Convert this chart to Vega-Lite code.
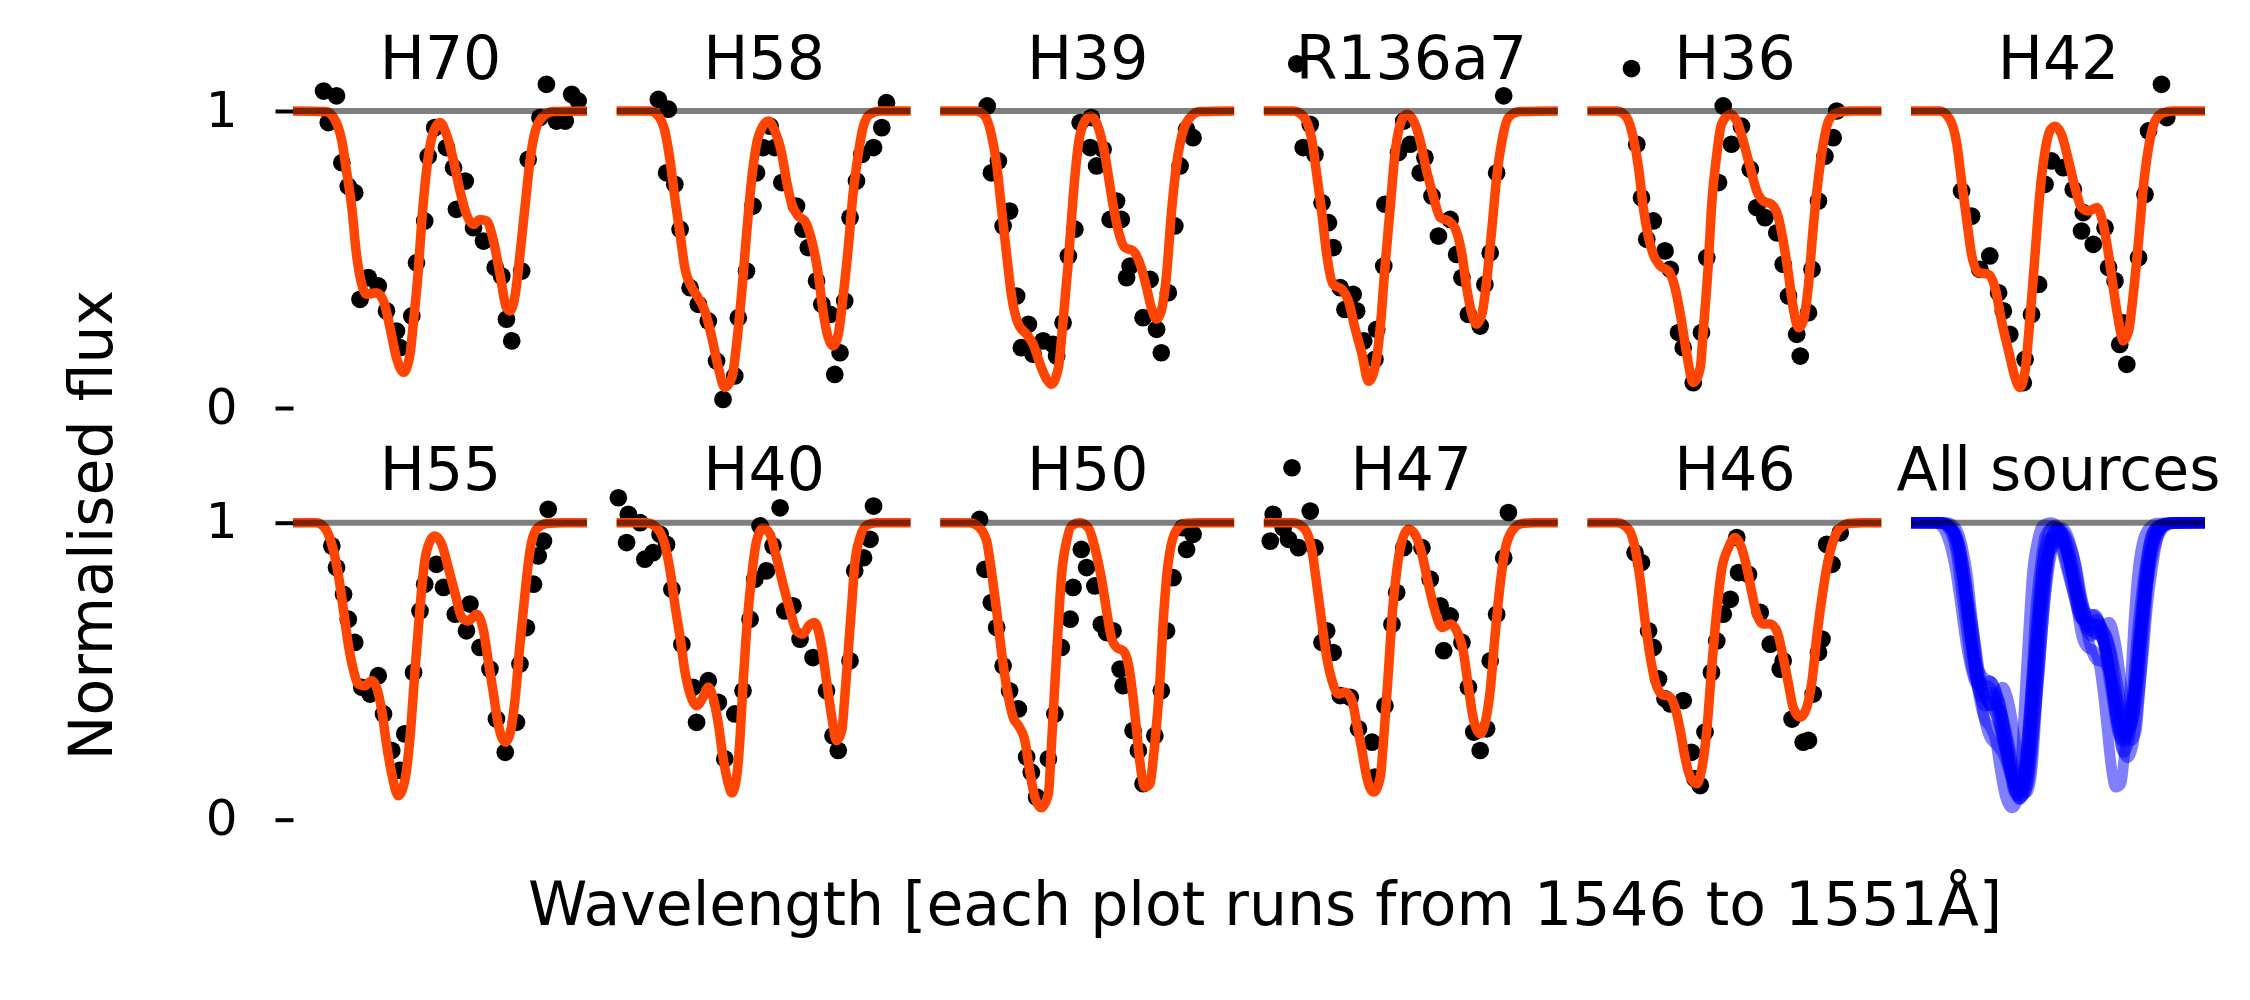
{
"$schema": "https://vega.github.io/schema/vega-lite/v6.json",
"background": "white",
"padding": {"left": 62, "top": 30, "right": 5, "bottom": 5},
"title": {"text": "Wavelength [each plot runs from 1546 to 1551Å]", "orient": "bottom", "anchor": "start", "frame": "group", "dx": 235, "fontSize": 60, "fontWeight": "normal", "color": "black", "font": "DejaVu Sans", "offset": 33},
"config": {
  "view": {"stroke": null},
  "font": "DejaVu Sans",
  "axis": {"domain": false, "grid": false, "ticks": true, "tickColor": "black", "tickSize": 18, "tickWidth": 4, "labelFontSize": 50, "labelColor": "black", "labelFont": "DejaVu Sans", "labelPadding": 38, "titleColor": "black", "titleFont": "DejaVu Sans", "titleFontWeight": "normal"},
  "axisTop": {"ticks": false, "labels": false, "domain": false, "titleBaseline": "alphabetic", "titleFontSize": 60},
  "line": {"color": "#ff4500", "strokeWidth": 9.5, "interpolate": "monotone"},
  "circle": {"color": "black", "size": 314, "opacity": 1},
  "rule": {"color": "black", "opacity": 0.5, "strokeWidth": 6}
},
"datasets": {
"continuum": [{"lo": 1546, "hi": 1551, "level": 1}],
"dots": [
{"src":"H70","wl":1546.52,"flux":1.067},{"src":"H70","wl":1546.74,"flux":1.051},{"src":"H70","wl":1546.6,"flux":0.961},{"src":"H70","wl":1546.83,"flux":0.826},{"src":"H70","wl":1546.94,"flux":0.747},{"src":"H70","wl":1547.05,"flux":0.725},{"src":"H70","wl":1547.28,"flux":0.439},{"src":"H70","wl":1547.14,"flux":0.366},{"src":"H70","wl":1547.45,"flux":0.411},{"src":"H70","wl":1547.59,"flux":0.327},{"src":"H70","wl":1547.76,"flux":0.259},{"src":"H70","wl":1547.82,"flux":0.203},{"src":"H70","wl":1548.02,"flux":0.31},{"src":"H70","wl":1548.1,"flux":0.489},{"src":"H70","wl":1548.24,"flux":0.63},{"src":"H70","wl":1548.3,"flux":0.848},{"src":"H70","wl":1548.41,"flux":0.944},{"src":"H70","wl":1548.61,"flux":0.877},{"src":"H70","wl":1548.73,"flux":0.809},{"src":"H70","wl":1548.93,"flux":0.764},{"src":"H70","wl":1548.78,"flux":0.669},{"src":"H70","wl":1549.07,"flux":0.607},{"src":"H70","wl":1549.24,"flux":0.562},{"src":"H70","wl":1549.44,"flux":0.473},{"src":"H70","wl":1549.55,"flux":0.444},{"src":"H70","wl":1549.63,"flux":0.299},{"src":"H70","wl":1549.72,"flux":0.226},{"src":"H70","wl":1549.89,"flux":0.461},{"src":"H70","wl":1550.0,"flux":0.837},{"src":"H70","wl":1550.2,"flux":0.978},{"src":"H70","wl":1550.31,"flux":1.09},{"src":"H70","wl":1550.48,"flux":0.966},{"src":"H70","wl":1550.63,"flux":0.966},{"src":"H70","wl":1550.74,"flux":1.056},{"src":"H70","wl":1550.85,"flux":1.034},
{"src":"H58","wl":1546.71,"flux":1.039},{"src":"H58","wl":1546.88,"flux":1.006},{"src":"H58","wl":1546.85,"flux":0.792},{"src":"H58","wl":1546.99,"flux":0.753},{"src":"H58","wl":1547.08,"flux":0.602},{"src":"H58","wl":1547.25,"flux":0.405},{"src":"H58","wl":1547.39,"flux":0.349},{"src":"H58","wl":1547.56,"flux":0.293},{"src":"H58","wl":1547.7,"flux":0.158},{"src":"H58","wl":1547.81,"flux":0.029},{"src":"H58","wl":1548.01,"flux":0.108},{"src":"H58","wl":1548.07,"flux":0.304},{"src":"H58","wl":1548.21,"flux":0.461},{"src":"H58","wl":1548.32,"flux":0.68},{"src":"H58","wl":1548.38,"flux":0.792},{"src":"H58","wl":1548.49,"flux":0.877},{"src":"H58","wl":1548.61,"flux":0.949},{"src":"H58","wl":1548.69,"flux":0.877},{"src":"H58","wl":1548.81,"flux":0.759},{"src":"H58","wl":1549.06,"flux":0.68},{"src":"H58","wl":1549.17,"flux":0.602},{"src":"H58","wl":1549.26,"flux":0.54},{"src":"H58","wl":1549.4,"flux":0.428},{"src":"H58","wl":1549.49,"flux":0.349},{"src":"H58","wl":1549.63,"flux":0.315},{"src":"H58","wl":1549.71,"flux":0.113},{"src":"H58","wl":1549.8,"flux":0.186},{"src":"H58","wl":1549.88,"flux":0.36},{"src":"H58","wl":1549.97,"flux":0.641},{"src":"H58","wl":1550.08,"flux":0.764},{"src":"H58","wl":1550.17,"flux":0.854},{"src":"H58","wl":1550.37,"flux":0.877},{"src":"H58","wl":1550.51,"flux":0.944},{"src":"H58","wl":1550.59,"flux":1.028},
{"src":"H39","wl":1546.8,"flux":1.017},{"src":"H39","wl":1546.99,"flux":0.832},{"src":"H39","wl":1546.87,"flux":0.792},{"src":"H39","wl":1547.18,"flux":0.663},{"src":"H39","wl":1547.07,"flux":0.613},{"src":"H39","wl":1547.3,"flux":0.377},{"src":"H39","wl":1547.5,"flux":0.282},{"src":"H39","wl":1547.38,"flux":0.203},{"src":"H39","wl":1547.58,"flux":0.181},{"src":"H39","wl":1547.75,"flux":0.226},{"src":"H39","wl":1547.92,"flux":0.214},{"src":"H39","wl":1547.98,"flux":0.175},{"src":"H39","wl":1548.09,"flux":0.287},{"src":"H39","wl":1548.18,"flux":0.512},{"src":"H39","wl":1548.29,"flux":0.602},{"src":"H39","wl":1548.38,"flux":0.961},{"src":"H39","wl":1548.57,"flux":0.978},{"src":"H39","wl":1548.55,"flux":0.877},{"src":"H39","wl":1548.77,"flux":0.871},{"src":"H39","wl":1548.66,"flux":0.815},{"src":"H39","wl":1549.0,"flux":0.697},{"src":"H39","wl":1548.89,"flux":0.635},{"src":"H39","wl":1549.08,"flux":0.635},{"src":"H39","wl":1549.23,"flux":0.478},{"src":"H39","wl":1549.17,"flux":0.439},{"src":"H39","wl":1549.57,"flux":0.433},{"src":"H39","wl":1549.45,"flux":0.304},{"src":"H39","wl":1549.68,"flux":0.265},{"src":"H39","wl":1549.76,"flux":0.186},{"src":"H39","wl":1549.88,"flux":0.388},{"src":"H39","wl":1549.99,"flux":0.613},{"src":"H39","wl":1550.08,"flux":0.815},{"src":"H39","wl":1550.19,"flux":0.938},{"src":"H39","wl":1550.3,"flux":0.91},
{"src":"R136a7","wl":1546.56,"flux":1.159},{"src":"R136a7","wl":1546.79,"flux":0.955},{"src":"R136a7","wl":1546.67,"flux":0.877},{"src":"R136a7","wl":1546.87,"flux":0.854},{"src":"R136a7","wl":1546.99,"flux":0.691},{"src":"R136a7","wl":1547.1,"flux":0.624},{"src":"R136a7","wl":1547.18,"flux":0.54},{"src":"R136a7","wl":1547.3,"flux":0.405},{"src":"R136a7","wl":1547.52,"flux":0.383},{"src":"R136a7","wl":1547.38,"flux":0.332},{"src":"R136a7","wl":1547.58,"flux":0.327},{"src":"R136a7","wl":1547.7,"flux":0.226},{"src":"R136a7","wl":1547.92,"flux":0.265},{"src":"R136a7","wl":1547.89,"flux":0.164},{"src":"R136a7","wl":1548.06,"flux":0.686},{"src":"R136a7","wl":1548.04,"flux":0.478},{"src":"R136a7","wl":1548.29,"flux":0.86},{"src":"R136a7","wl":1548.38,"flux":0.966},{"src":"R136a7","wl":1548.49,"flux":0.888},{"src":"R136a7","wl":1548.74,"flux":0.843},{"src":"R136a7","wl":1548.66,"flux":0.792},{"src":"R136a7","wl":1548.86,"flux":0.714},{"src":"R136a7","wl":1549.17,"flux":0.635},{"src":"R136a7","wl":1548.97,"flux":0.579},{"src":"R136a7","wl":1549.28,"flux":0.517},{"src":"R136a7","wl":1549.37,"flux":0.439},{"src":"R136a7","wl":1549.48,"flux":0.315},{"src":"R136a7","wl":1549.68,"flux":0.276},{"src":"R136a7","wl":1549.76,"flux":0.416},{"src":"R136a7","wl":1549.85,"flux":0.523},{"src":"R136a7","wl":1549.96,"flux":0.792},{"src":"R136a7","wl":1550.08,"flux":1.051},
{"src":"H36","wl":1546.75,"flux":1.143},{"src":"H36","wl":1546.84,"flux":0.888},{"src":"H36","wl":1546.92,"flux":0.708},{"src":"H36","wl":1547.12,"flux":0.63},{"src":"H36","wl":1547.01,"flux":0.568},{"src":"H36","wl":1547.32,"flux":0.529},{"src":"H36","wl":1547.41,"flux":0.467},{"src":"H36","wl":1547.55,"flux":0.254},{"src":"H36","wl":1547.63,"flux":0.203},{"src":"H36","wl":1547.8,"flux":0.085},{"src":"H36","wl":1547.94,"flux":0.254},{"src":"H36","wl":1548.03,"flux":0.506},{"src":"H36","wl":1548.23,"flux":0.759},{"src":"H36","wl":1548.31,"flux":1.017},{"src":"H36","wl":1548.62,"flux":0.949},{"src":"H36","wl":1548.45,"flux":0.888},{"src":"H36","wl":1548.77,"flux":0.804},{"src":"H36","wl":1548.88,"flux":0.675},{"src":"H36","wl":1549.02,"flux":0.641},{"src":"H36","wl":1549.22,"flux":0.59},{"src":"H36","wl":1549.33,"flux":0.484},{"src":"H36","wl":1549.42,"flux":0.377},{"src":"H36","wl":1549.56,"flux":0.248},{"src":"H36","wl":1549.62,"flux":0.175},{"src":"H36","wl":1549.76,"flux":0.321},{"src":"H36","wl":1549.82,"flux":0.467},{"src":"H36","wl":1549.93,"flux":0.697},{"src":"H36","wl":1550.04,"flux":0.848},{"src":"H36","wl":1550.18,"flux":0.91},{"src":"H36","wl":1550.24,"flux":1.0},
{"src":"H42","wl":1546.86,"flux":0.731},{"src":"H42","wl":1547.03,"flux":0.646},{"src":"H42","wl":1547.34,"flux":0.512},{"src":"H42","wl":1547.17,"flux":0.467},{"src":"H42","wl":1547.49,"flux":0.388},{"src":"H42","wl":1547.57,"flux":0.327},{"src":"H42","wl":1547.68,"flux":0.248},{"src":"H42","wl":1547.94,"flux":0.164},{"src":"H42","wl":1547.91,"flux":0.085},{"src":"H42","wl":1548.05,"flux":0.315},{"src":"H42","wl":1548.17,"flux":0.416},{"src":"H42","wl":1548.28,"flux":0.753},{"src":"H42","wl":1548.39,"flux":0.832},{"src":"H42","wl":1548.59,"flux":0.809},{"src":"H42","wl":1548.76,"flux":0.736},{"src":"H42","wl":1548.93,"flux":0.658},{"src":"H42","wl":1548.9,"flux":0.596},{"src":"H42","wl":1549.1,"flux":0.551},{"src":"H42","wl":1549.3,"flux":0.607},{"src":"H42","wl":1549.36,"flux":0.473},{"src":"H42","wl":1549.47,"flux":0.428},{"src":"H42","wl":1549.61,"flux":0.287},{"src":"H42","wl":1549.55,"flux":0.214},{"src":"H42","wl":1549.67,"flux":0.147},{"src":"H42","wl":1549.87,"flux":0.506},{"src":"H42","wl":1549.98,"flux":0.719},{"src":"H42","wl":1550.04,"flux":0.933},{"src":"H42","wl":1550.35,"flux":0.978},{"src":"H42","wl":1550.26,"flux":1.09},
{"src":"H55","wl":1546.66,"flux":0.922},{"src":"H55","wl":1546.74,"flux":0.849},{"src":"H55","wl":1546.86,"flux":0.759},{"src":"H55","wl":1546.94,"flux":0.675},{"src":"H55","wl":1547.05,"flux":0.597},{"src":"H55","wl":1547.17,"flux":0.446},{"src":"H55","wl":1547.31,"flux":0.423},{"src":"H55","wl":1547.45,"flux":0.485},{"src":"H55","wl":1547.54,"flux":0.356},{"src":"H55","wl":1547.68,"flux":0.233},{"src":"H55","wl":1547.82,"flux":0.166},{"src":"H55","wl":1547.9,"flux":0.289},{"src":"H55","wl":1548.05,"flux":0.496},{"src":"H55","wl":1548.16,"flux":0.703},{"src":"H55","wl":1548.24,"flux":0.793},{"src":"H55","wl":1548.44,"flux":0.86},{"src":"H55","wl":1548.56,"flux":0.782},{"src":"H55","wl":1548.76,"flux":0.692},{"src":"H55","wl":1549.01,"flux":0.726},{"src":"H55","wl":1548.95,"flux":0.636},{"src":"H55","wl":1549.18,"flux":0.58},{"src":"H55","wl":1549.35,"flux":0.507},{"src":"H55","wl":1549.46,"flux":0.339},{"src":"H55","wl":1549.61,"flux":0.227},{"src":"H55","wl":1549.8,"flux":0.328},{"src":"H55","wl":1549.86,"flux":0.524},{"src":"H55","wl":1549.97,"flux":0.647},{"src":"H55","wl":1550.09,"flux":0.793},{"src":"H55","wl":1550.17,"flux":0.888},{"src":"H55","wl":1550.26,"flux":0.938},{"src":"H55","wl":1550.34,"flux":1.045},
{"src":"H40","wl":1546.03,"flux":1.084},{"src":"H40","wl":1546.2,"flux":1.028},{"src":"H40","wl":1546.4,"flux":1.0},{"src":"H40","wl":1546.17,"flux":0.933},{"src":"H40","wl":1546.48,"flux":0.877},{"src":"H40","wl":1546.62,"flux":0.899},{"src":"H40","wl":1546.74,"flux":0.961},{"src":"H40","wl":1546.85,"flux":0.927},{"src":"H40","wl":1546.94,"flux":0.776},{"src":"H40","wl":1547.11,"flux":0.591},{"src":"H40","wl":1547.3,"flux":0.446},{"src":"H40","wl":1547.56,"flux":0.468},{"src":"H40","wl":1547.36,"flux":0.328},{"src":"H40","wl":1547.73,"flux":0.395},{"src":"H40","wl":1547.84,"flux":0.205},{"src":"H40","wl":1548.01,"flux":0.356},{"src":"H40","wl":1548.15,"flux":0.434},{"src":"H40","wl":1548.27,"flux":0.675},{"src":"H40","wl":1548.35,"flux":0.81},{"src":"H40","wl":1548.55,"flux":0.838},{"src":"H40","wl":1548.44,"flux":0.989},{"src":"H40","wl":1548.66,"flux":0.922},{"src":"H40","wl":1548.78,"flux":1.05},{"src":"H40","wl":1548.86,"flux":0.703},{"src":"H40","wl":1549.0,"flux":0.72},{"src":"H40","wl":1549.12,"flux":0.608},{"src":"H40","wl":1549.34,"flux":0.546},{"src":"H40","wl":1549.57,"flux":0.434},{"src":"H40","wl":1549.68,"flux":0.283},{"src":"H40","wl":1549.77,"flux":0.233},{"src":"H40","wl":1549.97,"flux":0.535},{"src":"H40","wl":1550.05,"flux":0.838},{"src":"H40","wl":1550.2,"flux":0.882},{"src":"H40","wl":1550.31,"flux":0.944},{"src":"H40","wl":1550.37,"flux":1.056},
{"src":"H50","wl":1546.67,"flux":1.011},{"src":"H50","wl":1546.76,"flux":0.843},{"src":"H50","wl":1546.87,"flux":0.731},{"src":"H50","wl":1546.96,"flux":0.647},{"src":"H50","wl":1547.07,"flux":0.518},{"src":"H50","wl":1547.18,"flux":0.434},{"src":"H50","wl":1547.33,"flux":0.373},{"src":"H50","wl":1547.47,"flux":0.211},{"src":"H50","wl":1547.55,"flux":0.16},{"src":"H50","wl":1547.64,"flux":0.076},{"src":"H50","wl":1547.84,"flux":0.205},{"src":"H50","wl":1547.95,"flux":0.356},{"src":"H50","wl":1548.06,"flux":0.58},{"src":"H50","wl":1548.21,"flux":0.675},{"src":"H50","wl":1548.26,"flux":0.782},{"src":"H50","wl":1548.4,"flux":0.91},{"src":"H50","wl":1548.49,"flux":0.849},{"src":"H50","wl":1548.63,"flux":0.787},{"src":"H50","wl":1548.74,"flux":0.658},{"src":"H50","wl":1548.94,"flux":0.636},{"src":"H50","wl":1548.83,"flux":0.63},{"src":"H50","wl":1549.06,"flux":0.507},{"src":"H50","wl":1549.11,"flux":0.451},{"src":"H50","wl":1549.28,"flux":0.3},{"src":"H50","wl":1549.37,"flux":0.233},{"src":"H50","wl":1549.45,"flux":0.121},{"src":"H50","wl":1549.65,"flux":0.283},{"src":"H50","wl":1549.76,"flux":0.434},{"src":"H50","wl":1549.85,"flux":0.636},{"src":"H50","wl":1549.96,"flux":0.815},{"src":"H50","wl":1550.13,"flux":0.983},{"src":"H50","wl":1550.3,"flux":0.961},{"src":"H50","wl":1550.19,"flux":0.91},
{"src":"H47","wl":1546.48,"flux":1.185},{"src":"H47","wl":1546.16,"flux":1.028},{"src":"H47","wl":1546.11,"flux":0.938},{"src":"H47","wl":1546.33,"flux":0.983},{"src":"H47","wl":1546.42,"flux":0.944},{"src":"H47","wl":1546.59,"flux":0.916},{"src":"H47","wl":1546.79,"flux":1.039},{"src":"H47","wl":1546.87,"flux":0.916},{"src":"H47","wl":1547.07,"flux":0.636},{"src":"H47","wl":1546.99,"flux":0.597},{"src":"H47","wl":1547.18,"flux":0.563},{"src":"H47","wl":1547.3,"flux":0.418},{"src":"H47","wl":1547.47,"flux":0.412},{"src":"H47","wl":1547.61,"flux":0.306},{"src":"H47","wl":1547.84,"flux":0.261},{"src":"H47","wl":1547.89,"flux":0.143},{"src":"H47","wl":1548.06,"flux":0.384},{"src":"H47","wl":1548.18,"flux":0.658},{"src":"H47","wl":1548.26,"flux":0.765},{"src":"H47","wl":1548.38,"flux":0.916},{"src":"H47","wl":1548.69,"flux":0.916},{"src":"H47","wl":1548.83,"flux":0.81},{"src":"H47","wl":1549.0,"flux":0.72},{"src":"H47","wl":1549.17,"flux":0.686},{"src":"H47","wl":1549.06,"flux":0.569},{"src":"H47","wl":1549.37,"flux":0.597},{"src":"H47","wl":1549.48,"flux":0.446},{"src":"H47","wl":1549.57,"flux":0.295},{"src":"H47","wl":1549.68,"flux":0.233},{"src":"H47","wl":1549.79,"flux":0.306},{"src":"H47","wl":1549.85,"flux":0.535},{"src":"H47","wl":1549.96,"flux":0.692},{"src":"H47","wl":1550.08,"flux":0.882},{"src":"H47","wl":1550.16,"flux":1.034},
{"src":"H46","wl":1546.81,"flux":0.899},{"src":"H46","wl":1546.92,"flux":0.866},{"src":"H46","wl":1547.04,"flux":0.636},{"src":"H46","wl":1547.12,"flux":0.58},{"src":"H46","wl":1547.21,"flux":0.474},{"src":"H46","wl":1547.32,"flux":0.407},{"src":"H46","wl":1547.63,"flux":0.401},{"src":"H46","wl":1547.41,"flux":0.39},{"src":"H46","wl":1547.77,"flux":0.227},{"src":"H46","wl":1547.83,"flux":0.138},{"src":"H46","wl":1547.92,"flux":0.115},{"src":"H46","wl":1548.0,"flux":0.295},{"src":"H46","wl":1548.11,"flux":0.496},{"src":"H46","wl":1548.2,"flux":0.602},{"src":"H46","wl":1548.31,"flux":0.692},{"src":"H46","wl":1548.43,"flux":0.742},{"src":"H46","wl":1548.57,"flux":0.832},{"src":"H46","wl":1548.54,"flux":0.95},{"src":"H46","wl":1548.74,"flux":0.826},{"src":"H46","wl":1548.94,"flux":0.698},{"src":"H46","wl":1549.11,"flux":0.591},{"src":"H46","wl":1549.33,"flux":0.535},{"src":"H46","wl":1549.28,"flux":0.507},{"src":"H46","wl":1549.48,"flux":0.339},{"src":"H46","wl":1549.67,"flux":0.261},{"src":"H46","wl":1549.76,"flux":0.267},{"src":"H46","wl":1549.84,"flux":0.423},{"src":"H46","wl":1549.93,"flux":0.563},{"src":"H46","wl":1549.99,"flux":0.608},{"src":"H46","wl":1550.16,"flux":0.86},{"src":"H46","wl":1550.07,"flux":0.927},{"src":"H46","wl":1550.3,"flux":0.966}
],
"models": [
{"src":"H70","wl":1546,"flux":1},{"src":"H70","wl":1546.55,"flux":0.998},{"src":"H70","wl":1546.69,"flux":0.978},{"src":"H70","wl":1546.83,"flux":0.899},{"src":"H70","wl":1546.91,"flux":0.798},{"src":"H70","wl":1547.0,"flux":0.675},{"src":"H70","wl":1547.08,"flux":0.517},{"src":"H70","wl":1547.17,"flux":0.416},{"src":"H70","wl":1547.25,"flux":0.383},{"src":"H70","wl":1547.42,"flux":0.388},{"src":"H70","wl":1547.54,"flux":0.36},{"src":"H70","wl":1547.65,"flux":0.27},{"src":"H70","wl":1547.76,"flux":0.169},{"src":"H70","wl":1547.88,"flux":0.12},{"src":"H70","wl":1547.99,"flux":0.181},{"src":"H70","wl":1548.05,"flux":0.293},{"src":"H70","wl":1548.13,"flux":0.461},{"src":"H70","wl":1548.19,"flux":0.63},{"src":"H70","wl":1548.27,"flux":0.798},{"src":"H70","wl":1548.36,"flux":0.91},{"src":"H70","wl":1548.5,"flux":0.961},{"src":"H70","wl":1548.61,"flux":0.921},{"src":"H70","wl":1548.73,"flux":0.832},{"src":"H70","wl":1548.84,"flux":0.731},{"src":"H70","wl":1548.95,"flux":0.652},{"src":"H70","wl":1549.07,"flux":0.618},{"src":"H70","wl":1549.18,"flux":0.635},{"src":"H70","wl":1549.29,"flux":0.63},{"src":"H70","wl":1549.41,"flux":0.562},{"src":"H70","wl":1549.52,"flux":0.45},{"src":"H70","wl":1549.63,"flux":0.338},{"src":"H70","wl":1549.69,"flux":0.327},{"src":"H70","wl":1549.78,"flux":0.383},{"src":"H70","wl":1549.86,"flux":0.517},{"src":"H70","wl":1549.95,"flux":0.686},{"src":"H70","wl":1550.03,"flux":0.832},{"src":"H70","wl":1550.12,"flux":0.933},{"src":"H70","wl":1550.26,"flux":0.983},{"src":"H70","wl":1550.43,"flux":0.998},{"src":"H70","wl":1551,"flux":1},
{"src":"H58","wl":1546,"flux":1},{"src":"H58","wl":1546.57,"flux":1},{"src":"H58","wl":1546.71,"flux":0.983},{"src":"H58","wl":1546.82,"flux":0.933},{"src":"H58","wl":1546.91,"flux":0.832},{"src":"H58","wl":1546.99,"flux":0.708},{"src":"H58","wl":1547.08,"flux":0.585},{"src":"H58","wl":1547.16,"flux":0.473},{"src":"H58","wl":1547.28,"flux":0.405},{"src":"H58","wl":1547.39,"flux":0.371},{"src":"H58","wl":1547.5,"flux":0.327},{"src":"H58","wl":1547.62,"flux":0.237},{"src":"H58","wl":1547.73,"flux":0.136},{"src":"H58","wl":1547.84,"flux":0.069},{"src":"H58","wl":1547.96,"flux":0.102},{"src":"H58","wl":1548.04,"flux":0.214},{"src":"H58","wl":1548.13,"flux":0.394},{"src":"H58","wl":1548.21,"flux":0.585},{"src":"H58","wl":1548.3,"flux":0.776},{"src":"H58","wl":1548.38,"flux":0.888},{"src":"H58","wl":1548.49,"flux":0.95},{"src":"H58","wl":1548.58,"flux":0.966},{"src":"H58","wl":1548.69,"flux":0.933},{"src":"H58","wl":1548.81,"flux":0.854},{"src":"H58","wl":1548.89,"flux":0.764},{"src":"H58","wl":1548.98,"flux":0.686},{"src":"H58","wl":1549.09,"flux":0.646},{"src":"H58","wl":1549.2,"flux":0.63},{"src":"H58","wl":1549.32,"flux":0.562},{"src":"H58","wl":1549.43,"flux":0.45},{"src":"H58","wl":1549.51,"flux":0.327},{"src":"H58","wl":1549.6,"flux":0.237},{"src":"H58","wl":1549.68,"flux":0.209},{"src":"H58","wl":1549.77,"flux":0.248},{"src":"H58","wl":1549.85,"flux":0.371},{"src":"H58","wl":1549.94,"flux":0.54},{"src":"H58","wl":1550.02,"flux":0.719},{"src":"H58","wl":1550.11,"flux":0.854},{"src":"H58","wl":1550.19,"flux":0.944},{"src":"H58","wl":1550.31,"flux":0.989},{"src":"H58","wl":1550.48,"flux":1},{"src":"H58","wl":1551,"flux":1},
{"src":"H39","wl":1546,"flux":1},{"src":"H39","wl":1546.62,"flux":1},{"src":"H39","wl":1546.76,"flux":0.983},{"src":"H39","wl":1546.87,"flux":0.921},{"src":"H39","wl":1546.96,"flux":0.82},{"src":"H39","wl":1547.04,"flux":0.675},{"src":"H39","wl":1547.13,"flux":0.517},{"src":"H39","wl":1547.21,"flux":0.383},{"src":"H39","wl":1547.33,"flux":0.282},{"src":"H39","wl":1547.47,"flux":0.248},{"src":"H39","wl":1547.58,"flux":0.215},{"src":"H39","wl":1547.7,"flux":0.147},{"src":"H39","wl":1547.81,"flux":0.097},{"src":"H39","wl":1547.89,"flux":0.08},{"src":"H39","wl":1548.01,"flux":0.136},{"src":"H39","wl":1548.09,"flux":0.293},{"src":"H39","wl":1548.18,"flux":0.495},{"src":"H39","wl":1548.26,"flux":0.708},{"src":"H39","wl":1548.35,"flux":0.888},{"src":"H39","wl":1548.46,"flux":0.966},{"src":"H39","wl":1548.57,"flux":0.983},{"src":"H39","wl":1548.69,"flux":0.944},{"src":"H39","wl":1548.8,"flux":0.854},{"src":"H39","wl":1548.91,"flux":0.719},{"src":"H39","wl":1549.03,"flux":0.596},{"src":"H39","wl":1549.14,"flux":0.54},{"src":"H39","wl":1549.28,"flux":0.529},{"src":"H39","wl":1549.4,"flux":0.484},{"src":"H39","wl":1549.51,"flux":0.405},{"src":"H39","wl":1549.59,"flux":0.338},{"src":"H39","wl":1549.68,"flux":0.299},{"src":"H39","wl":1549.76,"flux":0.327},{"src":"H39","wl":1549.85,"flux":0.45},{"src":"H39","wl":1549.93,"flux":0.652},{"src":"H39","wl":1550.02,"flux":0.82},{"src":"H39","wl":1550.13,"flux":0.933},{"src":"H39","wl":1550.25,"flux":0.978},{"src":"H39","wl":1550.42,"flux":0.998},{"src":"H39","wl":1551,"flux":1},
{"src":"R136a7","wl":1546,"flux":1},{"src":"R136a7","wl":1546.5,"flux":1},{"src":"R136a7","wl":1546.67,"flux":0.983},{"src":"R136a7","wl":1546.82,"flux":0.899},{"src":"R136a7","wl":1546.9,"flux":0.787},{"src":"R136a7","wl":1546.99,"flux":0.652},{"src":"R136a7","wl":1547.07,"flux":0.517},{"src":"R136a7","wl":1547.18,"flux":0.416},{"src":"R136a7","wl":1547.33,"flux":0.399},{"src":"R136a7","wl":1547.44,"flux":0.36},{"src":"R136a7","wl":1547.55,"flux":0.27},{"src":"R136a7","wl":1547.67,"flux":0.181},{"src":"R136a7","wl":1547.78,"flux":0.09},{"src":"R136a7","wl":1547.89,"flux":0.136},{"src":"R136a7","wl":1547.98,"flux":0.27},{"src":"R136a7","wl":1548.06,"flux":0.473},{"src":"R136a7","wl":1548.15,"flux":0.675},{"src":"R136a7","wl":1548.23,"flux":0.854},{"src":"R136a7","wl":1548.32,"flux":0.955},{"src":"R136a7","wl":1548.43,"flux":0.989},{"src":"R136a7","wl":1548.55,"flux":0.966},{"src":"R136a7","wl":1548.66,"flux":0.899},{"src":"R136a7","wl":1548.77,"flux":0.798},{"src":"R136a7","wl":1548.89,"flux":0.708},{"src":"R136a7","wl":1549.0,"flux":0.641},{"src":"R136a7","wl":1549.14,"flux":0.63},{"src":"R136a7","wl":1549.25,"flux":0.607},{"src":"R136a7","wl":1549.37,"flux":0.517},{"src":"R136a7","wl":1549.45,"flux":0.405},{"src":"R136a7","wl":1549.54,"flux":0.316},{"src":"R136a7","wl":1549.62,"flux":0.282},{"src":"R136a7","wl":1549.71,"flux":0.316},{"src":"R136a7","wl":1549.79,"flux":0.428},{"src":"R136a7","wl":1549.88,"flux":0.607},{"src":"R136a7","wl":1549.96,"flux":0.776},{"src":"R136a7","wl":1550.05,"flux":0.899},{"src":"R136a7","wl":1550.16,"flux":0.978},{"src":"R136a7","wl":1550.36,"flux":0.998},{"src":"R136a7","wl":1551,"flux":1},
{"src":"H36","wl":1546,"flux":1},{"src":"H36","wl":1546.5,"flux":1},{"src":"H36","wl":1546.67,"flux":0.978},{"src":"H36","wl":1546.78,"flux":0.91},{"src":"H36","wl":1546.87,"flux":0.809},{"src":"H36","wl":1546.95,"flux":0.675},{"src":"H36","wl":1547.04,"flux":0.574},{"src":"H36","wl":1547.12,"flux":0.517},{"src":"H36","wl":1547.24,"flux":0.478},{"src":"H36","wl":1547.38,"flux":0.461},{"src":"H36","wl":1547.49,"flux":0.405},{"src":"H36","wl":1547.6,"flux":0.293},{"src":"H36","wl":1547.69,"flux":0.181},{"src":"H36","wl":1547.8,"flux":0.086},{"src":"H36","wl":1547.92,"flux":0.136},{"src":"H36","wl":1547.97,"flux":0.259},{"src":"H36","wl":1548.06,"flux":0.495},{"src":"H36","wl":1548.11,"flux":0.675},{"src":"H36","wl":1548.2,"flux":0.854},{"src":"H36","wl":1548.28,"flux":0.955},{"src":"H36","wl":1548.43,"flux":0.989},{"src":"H36","wl":1548.54,"flux":0.966},{"src":"H36","wl":1548.65,"flux":0.899},{"src":"H36","wl":1548.77,"flux":0.809},{"src":"H36","wl":1548.88,"flux":0.731},{"src":"H36","wl":1548.99,"flux":0.697},{"src":"H36","wl":1549.13,"flux":0.686},{"src":"H36","wl":1549.25,"flux":0.641},{"src":"H36","wl":1549.33,"flux":0.562},{"src":"H36","wl":1549.42,"flux":0.45},{"src":"H36","wl":1549.5,"flux":0.338},{"src":"H36","wl":1549.59,"flux":0.27},{"src":"H36","wl":1549.67,"flux":0.293},{"src":"H36","wl":1549.76,"flux":0.416},{"src":"H36","wl":1549.84,"flux":0.607},{"src":"H36","wl":1549.93,"flux":0.776},{"src":"H36","wl":1550.01,"flux":0.888},{"src":"H36","wl":1550.1,"flux":0.966},{"src":"H36","wl":1550.24,"flux":0.994},{"src":"H36","wl":1550.47,"flux":1},{"src":"H36","wl":1551,"flux":1},
{"src":"H42","wl":1546,"flux":1},{"src":"H42","wl":1546.49,"flux":1},{"src":"H42","wl":1546.66,"flux":0.972},{"src":"H42","wl":1546.78,"flux":0.888},{"src":"H42","wl":1546.86,"flux":0.764},{"src":"H42","wl":1546.95,"flux":0.63},{"src":"H42","wl":1547.03,"flux":0.517},{"src":"H42","wl":1547.15,"flux":0.456},{"src":"H42","wl":1547.32,"flux":0.45},{"src":"H42","wl":1547.43,"flux":0.405},{"src":"H42","wl":1547.54,"flux":0.293},{"src":"H42","wl":1547.66,"flux":0.192},{"src":"H42","wl":1547.77,"flux":0.102},{"src":"H42","wl":1547.85,"flux":0.069},{"src":"H42","wl":1547.94,"flux":0.125},{"src":"H42","wl":1548.02,"flux":0.293},{"src":"H42","wl":1548.11,"flux":0.517},{"src":"H42","wl":1548.19,"flux":0.719},{"src":"H42","wl":1548.28,"flux":0.865},{"src":"H42","wl":1548.36,"flux":0.933},{"src":"H42","wl":1548.45,"flux":0.949},{"src":"H42","wl":1548.56,"flux":0.921},{"src":"H42","wl":1548.68,"flux":0.832},{"src":"H42","wl":1548.79,"flux":0.742},{"src":"H42","wl":1548.9,"flux":0.675},{"src":"H42","wl":1549.02,"flux":0.663},{"src":"H42","wl":1549.16,"flux":0.675},{"src":"H42","wl":1549.27,"flux":0.618},{"src":"H42","wl":1549.36,"flux":0.517},{"src":"H42","wl":1549.44,"flux":0.405},{"src":"H42","wl":1549.53,"flux":0.293},{"src":"H42","wl":1549.61,"flux":0.226},{"src":"H42","wl":1549.7,"flux":0.259},{"src":"H42","wl":1549.78,"flux":0.383},{"src":"H42","wl":1549.87,"flux":0.562},{"src":"H42","wl":1549.95,"flux":0.742},{"src":"H42","wl":1550.04,"flux":0.877},{"src":"H42","wl":1550.15,"flux":0.966},{"src":"H42","wl":1550.29,"flux":0.994},{"src":"H42","wl":1550.46,"flux":1},{"src":"H42","wl":1551,"flux":1},
{"src":"H55","wl":1546,"flux":1},{"src":"H55","wl":1546.4,"flux":1},{"src":"H55","wl":1546.54,"flux":0.983},{"src":"H55","wl":1546.66,"flux":0.927},{"src":"H55","wl":1546.77,"flux":0.826},{"src":"H55","wl":1546.86,"flux":0.703},{"src":"H55","wl":1546.94,"flux":0.591},{"src":"H55","wl":1547.03,"flux":0.502},{"src":"H55","wl":1547.11,"flux":0.457},{"src":"H55","wl":1547.22,"flux":0.451},{"src":"H55","wl":1547.34,"flux":0.468},{"src":"H55","wl":1547.42,"flux":0.446},{"src":"H55","wl":1547.51,"flux":0.367},{"src":"H55","wl":1547.59,"flux":0.255},{"src":"H55","wl":1547.68,"flux":0.154},{"src":"H55","wl":1547.79,"flux":0.081},{"src":"H55","wl":1547.9,"flux":0.131},{"src":"H55","wl":1547.99,"flux":0.277},{"src":"H55","wl":1548.07,"flux":0.49},{"src":"H55","wl":1548.16,"flux":0.714},{"src":"H55","wl":1548.24,"flux":0.871},{"src":"H55","wl":1548.33,"flux":0.938},{"src":"H55","wl":1548.41,"flux":0.955},{"src":"H55","wl":1548.53,"flux":0.927},{"src":"H55","wl":1548.64,"flux":0.849},{"src":"H55","wl":1548.76,"flux":0.759},{"src":"H55","wl":1548.87,"flux":0.681},{"src":"H55","wl":1548.98,"flux":0.669},{"src":"H55","wl":1549.12,"flux":0.692},{"src":"H55","wl":1549.24,"flux":0.636},{"src":"H55","wl":1549.32,"flux":0.535},{"src":"H55","wl":1549.41,"flux":0.423},{"src":"H55","wl":1549.49,"flux":0.322},{"src":"H55","wl":1549.61,"flux":0.261},{"src":"H55","wl":1549.69,"flux":0.289},{"src":"H55","wl":1549.78,"flux":0.412},{"src":"H55","wl":1549.86,"flux":0.591},{"src":"H55","wl":1549.95,"flux":0.771},{"src":"H55","wl":1550.03,"flux":0.905},{"src":"H55","wl":1550.14,"flux":0.978},{"src":"H55","wl":1550.31,"flux":0.997},{"src":"H55","wl":1550.6,"flux":1},{"src":"H55","wl":1551,"flux":1},
{"src":"H40","wl":1546,"flux":1},{"src":"H40","wl":1546.51,"flux":1},{"src":"H40","wl":1546.68,"flux":0.983},{"src":"H40","wl":1546.82,"flux":0.927},{"src":"H40","wl":1546.91,"flux":0.838},{"src":"H40","wl":1546.99,"flux":0.726},{"src":"H40","wl":1547.08,"flux":0.614},{"src":"H40","wl":1547.16,"flux":0.502},{"src":"H40","wl":1547.25,"flux":0.423},{"src":"H40","wl":1547.36,"flux":0.384},{"src":"H40","wl":1547.47,"flux":0.412},{"src":"H40","wl":1547.56,"flux":0.446},{"src":"H40","wl":1547.64,"flux":0.412},{"src":"H40","wl":1547.73,"flux":0.323},{"src":"H40","wl":1547.81,"flux":0.21},{"src":"H40","wl":1547.9,"flux":0.121},{"src":"H40","wl":1547.96,"flux":0.09},{"src":"H40","wl":1548.04,"flux":0.143},{"src":"H40","wl":1548.1,"flux":0.277},{"src":"H40","wl":1548.15,"flux":0.457},{"src":"H40","wl":1548.21,"flux":0.636},{"src":"H40","wl":1548.3,"flux":0.826},{"src":"H40","wl":1548.38,"flux":0.938},{"src":"H40","wl":1548.49,"flux":0.983},{"src":"H40","wl":1548.61,"flux":0.961},{"src":"H40","wl":1548.72,"flux":0.883},{"src":"H40","wl":1548.83,"flux":0.793},{"src":"H40","wl":1548.95,"flux":0.704},{"src":"H40","wl":1549.06,"flux":0.636},{"src":"H40","wl":1549.17,"flux":0.625},{"src":"H40","wl":1549.27,"flux":0.653},{"src":"H40","wl":1549.37,"flux":0.664},{"src":"H40","wl":1549.49,"flux":0.58},{"src":"H40","wl":1549.57,"flux":0.468},{"src":"H40","wl":1549.66,"flux":0.345},{"src":"H40","wl":1549.74,"flux":0.266},{"src":"H40","wl":1549.83,"flux":0.3},{"src":"H40","wl":1549.88,"flux":0.412},{"src":"H40","wl":1549.94,"flux":0.569},{"src":"H40","wl":1550.0,"flux":0.726},{"src":"H40","wl":1550.05,"flux":0.86},{"src":"H40","wl":1550.14,"flux":0.95},{"src":"H40","wl":1550.25,"flux":0.991},{"src":"H40","wl":1550.42,"flux":1},{"src":"H40","wl":1551,"flux":1},
{"src":"H50","wl":1546,"flux":1},{"src":"H50","wl":1546.5,"flux":1},{"src":"H50","wl":1546.67,"flux":0.983},{"src":"H50","wl":1546.79,"flux":0.938},{"src":"H50","wl":1546.87,"flux":0.838},{"src":"H50","wl":1546.96,"flux":0.703},{"src":"H50","wl":1547.04,"flux":0.569},{"src":"H50","wl":1547.13,"flux":0.446},{"src":"H50","wl":1547.24,"flux":0.345},{"src":"H50","wl":1547.35,"flux":0.311},{"src":"H50","wl":1547.44,"flux":0.267},{"src":"H50","wl":1547.52,"flux":0.166},{"src":"H50","wl":1547.61,"flux":0.076},{"src":"H50","wl":1547.72,"flux":0.04},{"src":"H50","wl":1547.84,"flux":0.087},{"src":"H50","wl":1547.89,"flux":0.244},{"src":"H50","wl":1547.95,"flux":0.457},{"src":"H50","wl":1548.01,"flux":0.658},{"src":"H50","wl":1548.06,"flux":0.815},{"src":"H50","wl":1548.15,"flux":0.938},{"src":"H50","wl":1548.23,"flux":0.989},{"src":"H50","wl":1548.38,"flux":1.0},{"src":"H50","wl":1548.52,"flux":0.983},{"src":"H50","wl":1548.63,"flux":0.916},{"src":"H50","wl":1548.74,"flux":0.815},{"src":"H50","wl":1548.83,"flux":0.703},{"src":"H50","wl":1548.91,"flux":0.614},{"src":"H50","wl":1549.0,"flux":0.58},{"src":"H50","wl":1549.11,"flux":0.569},{"src":"H50","wl":1549.2,"flux":0.524},{"src":"H50","wl":1549.28,"flux":0.412},{"src":"H50","wl":1549.34,"flux":0.3},{"src":"H50","wl":1549.4,"flux":0.188},{"src":"H50","wl":1549.48,"flux":0.11},{"src":"H50","wl":1549.57,"flux":0.121},{"src":"H50","wl":1549.62,"flux":0.199},{"src":"H50","wl":1549.68,"flux":0.322},{"src":"H50","wl":1549.74,"flux":0.479},{"src":"H50","wl":1549.79,"flux":0.658},{"src":"H50","wl":1549.85,"flux":0.815},{"src":"H50","wl":1549.93,"flux":0.927},{"src":"H50","wl":1550.05,"flux":0.983},{"src":"H50","wl":1550.19,"flux":0.998},{"src":"H50","wl":1550.42,"flux":1},{"src":"H50","wl":1551,"flux":1},
{"src":"H47","wl":1546,"flux":1},{"src":"H47","wl":1546.5,"flux":1},{"src":"H47","wl":1546.7,"flux":0.978},{"src":"H47","wl":1546.82,"flux":0.905},{"src":"H47","wl":1546.9,"flux":0.793},{"src":"H47","wl":1546.99,"flux":0.659},{"src":"H47","wl":1547.07,"flux":0.547},{"src":"H47","wl":1547.16,"flux":0.468},{"src":"H47","wl":1547.27,"flux":0.423},{"src":"H47","wl":1547.38,"flux":0.429},{"src":"H47","wl":1547.5,"flux":0.401},{"src":"H47","wl":1547.58,"flux":0.323},{"src":"H47","wl":1547.67,"flux":0.233},{"src":"H47","wl":1547.75,"flux":0.143},{"src":"H47","wl":1547.87,"flux":0.093},{"src":"H47","wl":1547.98,"flux":0.143},{"src":"H47","wl":1548.04,"flux":0.277},{"src":"H47","wl":1548.12,"flux":0.501},{"src":"H47","wl":1548.18,"flux":0.681},{"src":"H47","wl":1548.26,"flux":0.838},{"src":"H47","wl":1548.35,"flux":0.938},{"src":"H47","wl":1548.46,"flux":0.978},{"src":"H47","wl":1548.57,"flux":0.961},{"src":"H47","wl":1548.69,"flux":0.894},{"src":"H47","wl":1548.8,"flux":0.793},{"src":"H47","wl":1548.91,"flux":0.704},{"src":"H47","wl":1549.03,"flux":0.647},{"src":"H47","wl":1549.17,"flux":0.659},{"src":"H47","wl":1549.28,"flux":0.636},{"src":"H47","wl":1549.4,"flux":0.558},{"src":"H47","wl":1549.48,"flux":0.446},{"src":"H47","wl":1549.57,"flux":0.334},{"src":"H47","wl":1549.68,"flux":0.289},{"src":"H47","wl":1549.76,"flux":0.323},{"src":"H47","wl":1549.85,"flux":0.435},{"src":"H47","wl":1549.93,"flux":0.614},{"src":"H47","wl":1550.02,"flux":0.793},{"src":"H47","wl":1550.1,"flux":0.905},{"src":"H47","wl":1550.22,"flux":0.972},{"src":"H47","wl":1550.39,"flux":0.997},{"src":"H47","wl":1550.59,"flux":1},{"src":"H47","wl":1551,"flux":1},
{"src":"H46","wl":1546,"flux":1},{"src":"H46","wl":1546.5,"flux":1},{"src":"H46","wl":1546.7,"flux":0.978},{"src":"H46","wl":1546.81,"flux":0.916},{"src":"H46","wl":1546.9,"flux":0.804},{"src":"H46","wl":1546.98,"flux":0.67},{"src":"H46","wl":1547.07,"flux":0.547},{"src":"H46","wl":1547.15,"flux":0.468},{"src":"H46","wl":1547.26,"flux":0.423},{"src":"H46","wl":1547.41,"flux":0.412},{"src":"H46","wl":1547.49,"flux":0.378},{"src":"H46","wl":1547.58,"flux":0.3},{"src":"H46","wl":1547.66,"flux":0.21},{"src":"H46","wl":1547.75,"flux":0.143},{"src":"H46","wl":1547.86,"flux":0.121},{"src":"H46","wl":1547.94,"flux":0.166},{"src":"H46","wl":1548.03,"flux":0.3},{"src":"H46","wl":1548.11,"flux":0.502},{"src":"H46","wl":1548.2,"flux":0.703},{"src":"H46","wl":1548.28,"flux":0.838},{"src":"H46","wl":1548.4,"flux":0.916},{"src":"H46","wl":1548.51,"flux":0.95},{"src":"H46","wl":1548.62,"flux":0.916},{"src":"H46","wl":1548.71,"flux":0.849},{"src":"H46","wl":1548.79,"flux":0.771},{"src":"H46","wl":1548.88,"flux":0.692},{"src":"H46","wl":1548.99,"flux":0.659},{"src":"H46","wl":1549.11,"flux":0.659},{"src":"H46","wl":1549.22,"flux":0.636},{"src":"H46","wl":1549.33,"flux":0.547},{"src":"H46","wl":1549.42,"flux":0.457},{"src":"H46","wl":1549.5,"flux":0.378},{"src":"H46","wl":1549.62,"flux":0.345},{"src":"H46","wl":1549.73,"flux":0.378},{"src":"H46","wl":1549.82,"flux":0.468},{"src":"H46","wl":1549.9,"flux":0.614},{"src":"H46","wl":1549.99,"flux":0.748},{"src":"H46","wl":1550.07,"flux":0.849},{"src":"H46","wl":1550.18,"flux":0.938},{"src":"H46","wl":1550.3,"flux":0.983},{"src":"H46","wl":1550.47,"flux":0.998},{"src":"H46","wl":1550.69,"flux":1},{"src":"H46","wl":1551,"flux":1}
]
},
"columns": 6,
"spacing": {"row": 114.7, "column": 29.6},
"bounds": "flush",
"concat": [
{"width": 294, "height": 297, "layer": [
 {"data": {"name": "dots"}, "transform": [{"filter": {"field": "src", "equal": "H70"}}], "mark": "circle", "encoding": {"x": {"field": "wl", "type": "quantitative", "scale": {"domain": [1546, 1551], "nice": false, "zero": false}, "axis": {"orient": "top", "title": "H70", "titleY": -33}}, "y": {"field": "flux", "type": "quantitative", "scale": {"domain": [0, 1], "nice": false, "zero": false}, "axis": {"values": [0, 1], "format": "d", "title": null}}}},
 {"data": {"name": "models"}, "transform": [{"filter": {"field": "src", "equal": "H70"}}], "mark": "line", "encoding": {"x": {"field": "wl", "type": "quantitative"}, "y": {"field": "flux", "type": "quantitative"}}},
 {"data": {"name": "continuum"}, "mark": "rule", "encoding": {"x": {"field": "lo", "type": "quantitative"}, "x2": {"field": "hi"}, "y": {"field": "level", "type": "quantitative"}}}
]},
{"width": 294, "height": 297, "layer": [
 {"data": {"name": "dots"}, "transform": [{"filter": {"field": "src", "equal": "H58"}}], "mark": "circle", "encoding": {"x": {"field": "wl", "type": "quantitative", "scale": {"domain": [1546, 1551], "nice": false, "zero": false}, "axis": {"orient": "top", "title": "H58", "titleY": -33}}, "y": {"field": "flux", "type": "quantitative", "scale": {"domain": [0, 1], "nice": false, "zero": false}, "axis": null}}},
 {"data": {"name": "models"}, "transform": [{"filter": {"field": "src", "equal": "H58"}}], "mark": "line", "encoding": {"x": {"field": "wl", "type": "quantitative"}, "y": {"field": "flux", "type": "quantitative"}}},
 {"data": {"name": "continuum"}, "mark": "rule", "encoding": {"x": {"field": "lo", "type": "quantitative"}, "x2": {"field": "hi"}, "y": {"field": "level", "type": "quantitative"}}}
]},
{"width": 294, "height": 297, "layer": [
 {"data": {"name": "dots"}, "transform": [{"filter": {"field": "src", "equal": "H39"}}], "mark": "circle", "encoding": {"x": {"field": "wl", "type": "quantitative", "scale": {"domain": [1546, 1551], "nice": false, "zero": false}, "axis": {"orient": "top", "title": "H39", "titleY": -33}}, "y": {"field": "flux", "type": "quantitative", "scale": {"domain": [0, 1], "nice": false, "zero": false}, "axis": null}}},
 {"data": {"name": "models"}, "transform": [{"filter": {"field": "src", "equal": "H39"}}], "mark": "line", "encoding": {"x": {"field": "wl", "type": "quantitative"}, "y": {"field": "flux", "type": "quantitative"}}},
 {"data": {"name": "continuum"}, "mark": "rule", "encoding": {"x": {"field": "lo", "type": "quantitative"}, "x2": {"field": "hi"}, "y": {"field": "level", "type": "quantitative"}}}
]},
{"width": 294, "height": 297, "layer": [
 {"data": {"name": "dots"}, "transform": [{"filter": {"field": "src", "equal": "R136a7"}}], "mark": "circle", "encoding": {"x": {"field": "wl", "type": "quantitative", "scale": {"domain": [1546, 1551], "nice": false, "zero": false}, "axis": {"orient": "top", "title": "R136a7", "titleY": -33}}, "y": {"field": "flux", "type": "quantitative", "scale": {"domain": [0, 1], "nice": false, "zero": false}, "axis": null}}},
 {"data": {"name": "models"}, "transform": [{"filter": {"field": "src", "equal": "R136a7"}}], "mark": "line", "encoding": {"x": {"field": "wl", "type": "quantitative"}, "y": {"field": "flux", "type": "quantitative"}}},
 {"data": {"name": "continuum"}, "mark": "rule", "encoding": {"x": {"field": "lo", "type": "quantitative"}, "x2": {"field": "hi"}, "y": {"field": "level", "type": "quantitative"}}}
]},
{"width": 294, "height": 297, "layer": [
 {"data": {"name": "dots"}, "transform": [{"filter": {"field": "src", "equal": "H36"}}], "mark": "circle", "encoding": {"x": {"field": "wl", "type": "quantitative", "scale": {"domain": [1546, 1551], "nice": false, "zero": false}, "axis": {"orient": "top", "title": "H36", "titleY": -33}}, "y": {"field": "flux", "type": "quantitative", "scale": {"domain": [0, 1], "nice": false, "zero": false}, "axis": null}}},
 {"data": {"name": "models"}, "transform": [{"filter": {"field": "src", "equal": "H36"}}], "mark": "line", "encoding": {"x": {"field": "wl", "type": "quantitative"}, "y": {"field": "flux", "type": "quantitative"}}},
 {"data": {"name": "continuum"}, "mark": "rule", "encoding": {"x": {"field": "lo", "type": "quantitative"}, "x2": {"field": "hi"}, "y": {"field": "level", "type": "quantitative"}}}
]},
{"width": 294, "height": 297, "layer": [
 {"data": {"name": "dots"}, "transform": [{"filter": {"field": "src", "equal": "H42"}}], "mark": "circle", "encoding": {"x": {"field": "wl", "type": "quantitative", "scale": {"domain": [1546, 1551], "nice": false, "zero": false}, "axis": {"orient": "top", "title": "H42", "titleY": -33}}, "y": {"field": "flux", "type": "quantitative", "scale": {"domain": [0, 1], "nice": false, "zero": false}, "axis": null}}},
 {"data": {"name": "models"}, "transform": [{"filter": {"field": "src", "equal": "H42"}}], "mark": "line", "encoding": {"x": {"field": "wl", "type": "quantitative"}, "y": {"field": "flux", "type": "quantitative"}}},
 {"data": {"name": "continuum"}, "mark": "rule", "encoding": {"x": {"field": "lo", "type": "quantitative"}, "x2": {"field": "hi"}, "y": {"field": "level", "type": "quantitative"}}}
]},
{"width": 294, "height": 297, "layer": [
 {"data": {"name": "dots"}, "transform": [{"filter": {"field": "src", "equal": "H55"}}], "mark": "circle", "encoding": {"x": {"field": "wl", "type": "quantitative", "scale": {"domain": [1546, 1551], "nice": false, "zero": false}, "axis": {"orient": "top", "title": "H55", "titleY": -33}}, "y": {"field": "flux", "type": "quantitative", "scale": {"domain": [0, 1], "nice": false, "zero": false}, "axis": {"values": [0, 1], "format": "d", "title": "Normalised flux", "titleX": -200, "titleY": 2, "titleAngle": 270, "titleBaseline": "middle", "titleAlign": "center", "titleFontSize": 60}}}},
 {"data": {"name": "models"}, "transform": [{"filter": {"field": "src", "equal": "H55"}}], "mark": "line", "encoding": {"x": {"field": "wl", "type": "quantitative"}, "y": {"field": "flux", "type": "quantitative"}}},
 {"data": {"name": "continuum"}, "mark": "rule", "encoding": {"x": {"field": "lo", "type": "quantitative"}, "x2": {"field": "hi"}, "y": {"field": "level", "type": "quantitative"}}}
]},
{"width": 294, "height": 297, "layer": [
 {"data": {"name": "dots"}, "transform": [{"filter": {"field": "src", "equal": "H40"}}], "mark": "circle", "encoding": {"x": {"field": "wl", "type": "quantitative", "scale": {"domain": [1546, 1551], "nice": false, "zero": false}, "axis": {"orient": "top", "title": "H40", "titleY": -33}}, "y": {"field": "flux", "type": "quantitative", "scale": {"domain": [0, 1], "nice": false, "zero": false}, "axis": null}}},
 {"data": {"name": "models"}, "transform": [{"filter": {"field": "src", "equal": "H40"}}], "mark": "line", "encoding": {"x": {"field": "wl", "type": "quantitative"}, "y": {"field": "flux", "type": "quantitative"}}},
 {"data": {"name": "continuum"}, "mark": "rule", "encoding": {"x": {"field": "lo", "type": "quantitative"}, "x2": {"field": "hi"}, "y": {"field": "level", "type": "quantitative"}}}
]},
{"width": 294, "height": 297, "layer": [
 {"data": {"name": "dots"}, "transform": [{"filter": {"field": "src", "equal": "H50"}}], "mark": "circle", "encoding": {"x": {"field": "wl", "type": "quantitative", "scale": {"domain": [1546, 1551], "nice": false, "zero": false}, "axis": {"orient": "top", "title": "H50", "titleY": -33}}, "y": {"field": "flux", "type": "quantitative", "scale": {"domain": [0, 1], "nice": false, "zero": false}, "axis": null}}},
 {"data": {"name": "models"}, "transform": [{"filter": {"field": "src", "equal": "H50"}}], "mark": "line", "encoding": {"x": {"field": "wl", "type": "quantitative"}, "y": {"field": "flux", "type": "quantitative"}}},
 {"data": {"name": "continuum"}, "mark": "rule", "encoding": {"x": {"field": "lo", "type": "quantitative"}, "x2": {"field": "hi"}, "y": {"field": "level", "type": "quantitative"}}}
]},
{"width": 294, "height": 297, "layer": [
 {"data": {"name": "dots"}, "transform": [{"filter": {"field": "src", "equal": "H47"}}], "mark": "circle", "encoding": {"x": {"field": "wl", "type": "quantitative", "scale": {"domain": [1546, 1551], "nice": false, "zero": false}, "axis": {"orient": "top", "title": "H47", "titleY": -33}}, "y": {"field": "flux", "type": "quantitative", "scale": {"domain": [0, 1], "nice": false, "zero": false}, "axis": null}}},
 {"data": {"name": "models"}, "transform": [{"filter": {"field": "src", "equal": "H47"}}], "mark": "line", "encoding": {"x": {"field": "wl", "type": "quantitative"}, "y": {"field": "flux", "type": "quantitative"}}},
 {"data": {"name": "continuum"}, "mark": "rule", "encoding": {"x": {"field": "lo", "type": "quantitative"}, "x2": {"field": "hi"}, "y": {"field": "level", "type": "quantitative"}}}
]},
{"width": 294, "height": 297, "layer": [
 {"data": {"name": "dots"}, "transform": [{"filter": {"field": "src", "equal": "H46"}}], "mark": "circle", "encoding": {"x": {"field": "wl", "type": "quantitative", "scale": {"domain": [1546, 1551], "nice": false, "zero": false}, "axis": {"orient": "top", "title": "H46", "titleY": -33}}, "y": {"field": "flux", "type": "quantitative", "scale": {"domain": [0, 1], "nice": false, "zero": false}, "axis": null}}},
 {"data": {"name": "models"}, "transform": [{"filter": {"field": "src", "equal": "H46"}}], "mark": "line", "encoding": {"x": {"field": "wl", "type": "quantitative"}, "y": {"field": "flux", "type": "quantitative"}}},
 {"data": {"name": "continuum"}, "mark": "rule", "encoding": {"x": {"field": "lo", "type": "quantitative"}, "x2": {"field": "hi"}, "y": {"field": "level", "type": "quantitative"}}}
]},
{"width": 294, "height": 297, "layer": [
 {"data": {"name": "models"}, "mark": {"type": "line", "color": "blue", "opacity": 0.5, "strokeWidth": 11}, "encoding": {"x": {"field": "wl", "type": "quantitative", "scale": {"domain": [1546, 1551], "nice": false, "zero": false}, "axis": {"orient": "top", "title": "All sources", "titleY": -33}}, "y": {"field": "flux", "type": "quantitative", "scale": {"domain": [0, 1], "nice": false, "zero": false}, "axis": null}, "detail": {"field": "src"}}},
 {"data": {"name": "continuum"}, "mark": "rule", "encoding": {"x": {"field": "lo", "type": "quantitative"}, "x2": {"field": "hi"}, "y": {"field": "level", "type": "quantitative"}}}
]}
]
}
